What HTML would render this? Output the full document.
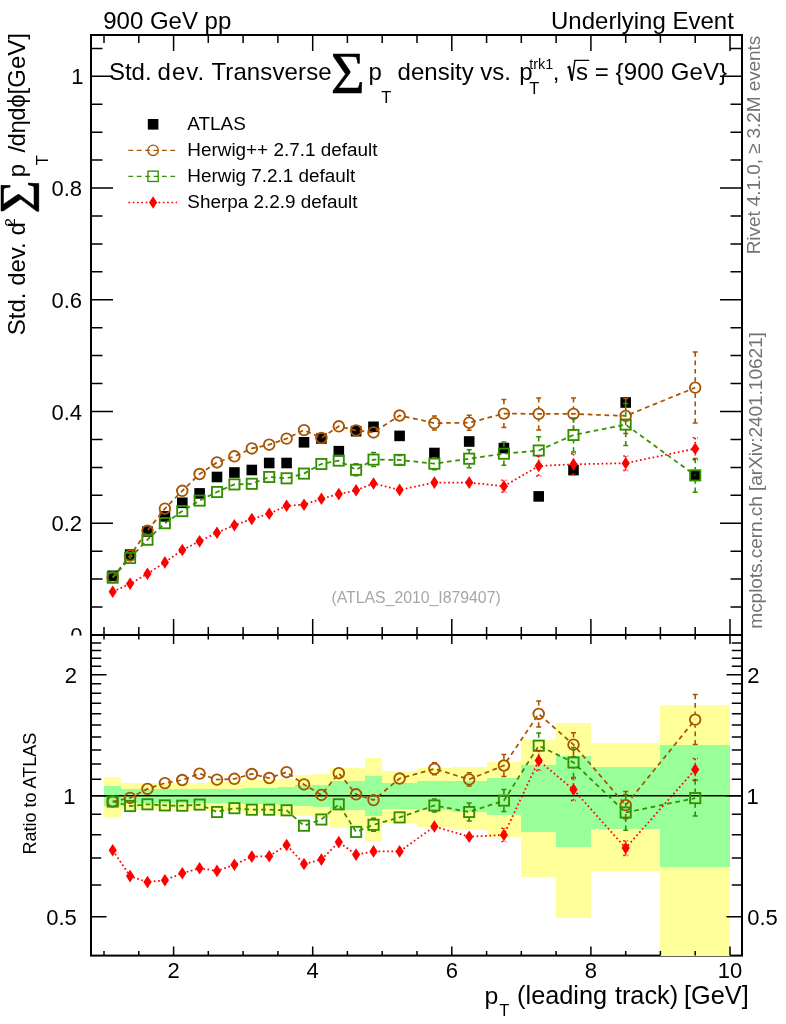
<!DOCTYPE html>
<html><head><meta charset="utf-8"><title>Underlying Event</title>
<style>html,body{margin:0;padding:0;background:#fff;overflow:hidden}svg{display:block}text{font-family:"Liberation Sans",sans-serif;fill:#000}</style></head><body>
<svg width="786" height="1024" viewBox="0 0 786 1024">
<rect width="786" height="1024" fill="#fff"/>
<g stroke="#000" stroke-width="2" fill="none" stroke-linecap="butt">
<rect x="91.0" y="35.0" width="651.0" height="920.6"/>
<line x1="91.0" x2="742.0" y1="635.0" y2="635.0" stroke-width="2.1"/>
</g>
<g shape-rendering="crispEdges">
<rect x="104.0" y="777.3" width="17.4" height="39.3" fill="#ffff99"/>
<rect x="121.4" y="783.0" width="17.4" height="26.6" fill="#ffff99"/>
<rect x="138.8" y="783.0" width="17.4" height="26.6" fill="#ffff99"/>
<rect x="156.2" y="783.0" width="17.4" height="26.6" fill="#ffff99"/>
<rect x="173.6" y="783.0" width="17.4" height="26.6" fill="#ffff99"/>
<rect x="190.9" y="783.0" width="17.4" height="26.6" fill="#ffff99"/>
<rect x="208.3" y="781.9" width="17.4" height="29.0" fill="#ffff99"/>
<rect x="225.7" y="781.9" width="17.4" height="29.0" fill="#ffff99"/>
<rect x="243.1" y="780.3" width="17.4" height="32.6" fill="#ffff99"/>
<rect x="260.5" y="779.8" width="17.4" height="33.6" fill="#ffff99"/>
<rect x="277.9" y="778.5" width="17.4" height="36.4" fill="#ffff99"/>
<rect x="295.3" y="775.4" width="17.4" height="40.6" fill="#ffff99"/>
<rect x="312.7" y="774.2" width="17.4" height="43.4" fill="#ffff99"/>
<rect x="330.1" y="767.9" width="17.4" height="59.9" fill="#ffff99"/>
<rect x="347.4" y="767.9" width="17.4" height="59.9" fill="#ffff99"/>
<rect x="364.8" y="758.4" width="17.4" height="83.3" fill="#ffff99"/>
<rect x="382.2" y="771.4" width="34.8" height="51.9" fill="#ffff99"/>
<rect x="417.0" y="767.8" width="34.8" height="59.4" fill="#ffff99"/>
<rect x="451.8" y="766.9" width="34.8" height="63.5" fill="#ffff99"/>
<rect x="486.6" y="762.2" width="34.8" height="74.4" fill="#ffff99"/>
<rect x="521.3" y="739.6" width="34.8" height="137.1" fill="#ffff99"/>
<rect x="556.1" y="723.4" width="34.8" height="195.0" fill="#ffff99"/>
<rect x="590.9" y="742.6" width="69.6" height="128.7" fill="#ffff99"/>
<rect x="660.4" y="705.2" width="69.6" height="250.4" fill="#ffff99"/>
<rect x="104.0" y="786.3" width="17.4" height="19.6" fill="#99ff99"/>
<rect x="121.4" y="789.3" width="17.4" height="13.3" fill="#99ff99"/>
<rect x="138.8" y="789.3" width="17.4" height="13.3" fill="#99ff99"/>
<rect x="156.2" y="789.3" width="17.4" height="13.3" fill="#99ff99"/>
<rect x="173.6" y="789.3" width="17.4" height="13.3" fill="#99ff99"/>
<rect x="190.9" y="789.3" width="17.4" height="13.3" fill="#99ff99"/>
<rect x="208.3" y="788.7" width="17.4" height="14.5" fill="#99ff99"/>
<rect x="225.7" y="788.7" width="17.4" height="14.5" fill="#99ff99"/>
<rect x="243.1" y="787.9" width="17.4" height="16.2" fill="#99ff99"/>
<rect x="260.5" y="787.6" width="17.4" height="16.8" fill="#99ff99"/>
<rect x="277.9" y="787.0" width="17.4" height="18.2" fill="#99ff99"/>
<rect x="295.3" y="785.3" width="17.4" height="21.1" fill="#99ff99"/>
<rect x="312.7" y="784.6" width="17.4" height="22.0" fill="#99ff99"/>
<rect x="330.1" y="781.3" width="17.4" height="28.6" fill="#99ff99"/>
<rect x="347.4" y="781.3" width="17.4" height="28.6" fill="#99ff99"/>
<rect x="364.8" y="776.1" width="17.4" height="40.0" fill="#99ff99"/>
<rect x="382.2" y="783.2" width="34.8" height="25.6" fill="#99ff99"/>
<rect x="417.0" y="781.2" width="34.8" height="29.1" fill="#99ff99"/>
<rect x="451.8" y="780.8" width="34.8" height="31.2" fill="#99ff99"/>
<rect x="486.6" y="778.2" width="34.8" height="36.4" fill="#99ff99"/>
<rect x="521.3" y="765.4" width="34.8" height="66.3" fill="#99ff99"/>
<rect x="556.1" y="755.9" width="34.8" height="90.7" fill="#99ff99"/>
<rect x="590.9" y="767.2" width="69.6" height="62.2" fill="#99ff99"/>
<rect x="660.4" y="744.7" width="69.6" height="122.5" fill="#99ff99"/>
</g>
<line x1="91.0" x2="742.0" y1="795.8" y2="795.8" stroke="#000" stroke-width="1.5"/>
<g stroke="#000" stroke-width="2" fill="none" stroke-linecap="butt">
<path stroke-width="1.5" d="M104.0 35.0v8M104.0 635.0v-8M104.0 635.0v4.5M104.0 955.6v-4.5M138.8 35.0v8M138.8 635.0v-8M138.8 635.0v4.5M138.8 955.6v-4.5M173.6 35.0v16M173.6 635.0v-16M173.6 635.0v9M173.6 955.6v-9M208.3 35.0v8M208.3 635.0v-8M208.3 635.0v4.5M208.3 955.6v-4.5M243.1 35.0v8M243.1 635.0v-8M243.1 635.0v4.5M243.1 955.6v-4.5M277.9 35.0v8M277.9 635.0v-8M277.9 635.0v4.5M277.9 955.6v-4.5M312.7 35.0v16M312.7 635.0v-16M312.7 635.0v9M312.7 955.6v-9M347.4 35.0v8M347.4 635.0v-8M347.4 635.0v4.5M347.4 955.6v-4.5M382.2 35.0v8M382.2 635.0v-8M382.2 635.0v4.5M382.2 955.6v-4.5M417.0 35.0v8M417.0 635.0v-8M417.0 635.0v4.5M417.0 955.6v-4.5M451.8 35.0v16M451.8 635.0v-16M451.8 635.0v9M451.8 955.6v-9M486.6 35.0v8M486.6 635.0v-8M486.6 635.0v4.5M486.6 955.6v-4.5M521.3 35.0v8M521.3 635.0v-8M521.3 635.0v4.5M521.3 955.6v-4.5M556.1 35.0v8M556.1 635.0v-8M556.1 635.0v4.5M556.1 955.6v-4.5M590.9 35.0v16M590.9 635.0v-16M590.9 635.0v9M590.9 955.6v-9M625.7 35.0v8M625.7 635.0v-8M625.7 635.0v4.5M625.7 955.6v-4.5M660.4 35.0v8M660.4 635.0v-8M660.4 635.0v4.5M660.4 955.6v-4.5M695.2 35.0v8M695.2 635.0v-8M695.2 635.0v4.5M695.2 955.6v-4.5M730.0 35.0v16M730.0 635.0v-16M730.0 635.0v9M730.0 955.6v-9M91.0 607.1h11.5M742.0 607.1h-11.5M91.0 579.1h11.5M742.0 579.1h-11.5M91.0 551.2h11.5M742.0 551.2h-11.5M91.0 523.3h22M742.0 523.3h-22M91.0 495.3h11.5M742.0 495.3h-11.5M91.0 467.4h11.5M742.0 467.4h-11.5M91.0 439.5h11.5M742.0 439.5h-11.5M91.0 411.5h22M742.0 411.5h-22M91.0 383.6h11.5M742.0 383.6h-11.5M91.0 355.6h11.5M742.0 355.6h-11.5M91.0 327.7h11.5M742.0 327.7h-11.5M91.0 299.8h22M742.0 299.8h-22M91.0 271.8h11.5M742.0 271.8h-11.5M91.0 243.9h11.5M742.0 243.9h-11.5M91.0 216.0h11.5M742.0 216.0h-11.5M91.0 188.0h22M742.0 188.0h-22M91.0 160.1h11.5M742.0 160.1h-11.5M91.0 132.2h11.5M742.0 132.2h-11.5M91.0 104.2h11.5M742.0 104.2h-11.5M91.0 76.3h22M742.0 76.3h-22M91.0 48.4h11.5M742.0 48.4h-11.5M91.0 916.8h15.5M742.0 916.8h-15.5M91.0 885.0h10.2M742.0 885.0h-10.2M91.0 858.1h10.2M742.0 858.1h-10.2M91.0 834.8h10.2M742.0 834.8h-10.2M91.0 814.2h10.2M742.0 814.2h-10.2M91.0 795.8h15.5M742.0 795.8h-15.5M91.0 779.2h10.2M742.0 779.2h-10.2M91.0 764.0h10.2M742.0 764.0h-10.2M91.0 750.0h10.2M742.0 750.0h-10.2M91.0 737.1h10.2M742.0 737.1h-10.2M91.0 725.0h10.2M742.0 725.0h-10.2M91.0 713.8h10.2M742.0 713.8h-10.2M91.0 703.2h10.2M742.0 703.2h-10.2M91.0 693.2h10.2M742.0 693.2h-10.2M91.0 683.8h10.2M742.0 683.8h-10.2M91.0 674.8h15.5M742.0 674.8h-15.5M91.0 666.3h10.2M742.0 666.3h-10.2M91.0 658.2h10.2M742.0 658.2h-10.2M91.0 650.4h10.2M742.0 650.4h-10.2M91.0 643.0h10.2M742.0 643.0h-10.2"/>
</g>
<rect x="107.4" y="570.5" width="10.6" height="10.6" fill="#000"/>
<rect x="124.8" y="549.3" width="10.6" height="10.6" fill="#000"/>
<rect x="142.2" y="526.2" width="10.6" height="10.6" fill="#000"/>
<rect x="159.6" y="511.1" width="10.6" height="10.6" fill="#000"/>
<rect x="177.0" y="497.5" width="10.6" height="10.6" fill="#000"/>
<rect x="194.3" y="488.1" width="10.6" height="10.6" fill="#000"/>
<rect x="211.7" y="471.7" width="10.6" height="10.6" fill="#000"/>
<rect x="229.1" y="467.2" width="10.6" height="10.6" fill="#000"/>
<rect x="246.5" y="464.7" width="10.6" height="10.6" fill="#000"/>
<rect x="263.9" y="457.7" width="10.6" height="10.6" fill="#000"/>
<rect x="281.3" y="457.7" width="10.6" height="10.6" fill="#000"/>
<rect x="298.7" y="437.0" width="10.6" height="10.6" fill="#000"/>
<rect x="316.1" y="433.2" width="10.6" height="10.6" fill="#000"/>
<rect x="333.5" y="445.9" width="10.6" height="10.6" fill="#000"/>
<rect x="350.8" y="425.9" width="10.6" height="10.6" fill="#000"/>
<rect x="368.2" y="421.5" width="10.6" height="10.6" fill="#000"/>
<rect x="394.3" y="430.6" width="10.6" height="10.6" fill="#000"/>
<rect x="429.1" y="447.7" width="10.6" height="10.6" fill="#000"/>
<rect x="463.9" y="436.2" width="10.6" height="10.6" fill="#000"/>
<rect x="498.6" y="442.8" width="10.6" height="10.6" fill="#000"/>
<rect x="533.4" y="491.1" width="10.6" height="10.6" fill="#000"/>
<rect x="568.2" y="464.8" width="10.6" height="10.6" fill="#000"/>
<rect x="620.4" y="397.2" width="10.6" height="10.6" fill="#000"/>
<rect x="689.9" y="469.9" width="10.6" height="10.6" fill="#000"/>
<path d="M112.7 577.3 L130.1 555.6 L147.5 530.6 L164.9 508.6 L182.3 490.8 L199.6 474.0 L217.0 462.4 L234.4 456.3 L251.8 448.4 L269.2 444.7 L286.6 438.6 L304.0 430.1 L321.4 438.0 L338.8 426.3 L356.1 430.4 L373.5 432.4 L399.6 415.5 L434.4 423.1 L469.2 422.7 L503.9 413.6 L538.7 413.9 L573.5 413.9 L625.7 415.9 L695.2 387.6" fill="none" stroke="#a85400" stroke-width="1.75" stroke-dasharray="4.7 3.7"/>
<path d="M434.4 416.1V417.3M434.4 430.1V428.9M469.2 415.2V416.9M469.2 430.2V428.5M503.9 399.6V407.8M503.9 427.6V419.4M538.7 397.9V408.1M538.7 429.9V419.7M573.5 397.9V408.1M573.5 429.9V419.7M625.7 398.4V410.1M625.7 433.4V421.7M695.2 352.1V381.8M695.2 423.1V393.4" fill="none" stroke="#a85400" stroke-width="1.6" stroke-dasharray="4.7 3.7"/>
<path d="M431.9 416.1h5M431.9 430.1h5M466.7 415.2h5M466.7 430.2h5M501.4 399.6h5M501.4 427.6h5M536.2 397.9h5M536.2 429.9h5M571.0 397.9h5M571.0 429.9h5M623.2 398.4h5M623.2 433.4h5M692.7 352.1h5M692.7 423.1h5" fill="none" stroke="#a85400" stroke-width="1.5"/>
<circle cx="112.7" cy="577.3" r="5.3" fill="none" stroke="#a85400" stroke-width="1.85"/>
<circle cx="130.1" cy="555.6" r="5.3" fill="none" stroke="#a85400" stroke-width="1.85"/>
<circle cx="147.5" cy="530.6" r="5.3" fill="none" stroke="#a85400" stroke-width="1.85"/>
<circle cx="164.9" cy="508.6" r="5.3" fill="none" stroke="#a85400" stroke-width="1.85"/>
<circle cx="182.3" cy="490.8" r="5.3" fill="none" stroke="#a85400" stroke-width="1.85"/>
<circle cx="199.6" cy="474.0" r="5.3" fill="none" stroke="#a85400" stroke-width="1.85"/>
<circle cx="217.0" cy="462.4" r="5.3" fill="none" stroke="#a85400" stroke-width="1.85"/>
<circle cx="234.4" cy="456.3" r="5.3" fill="none" stroke="#a85400" stroke-width="1.85"/>
<circle cx="251.8" cy="448.4" r="5.3" fill="none" stroke="#a85400" stroke-width="1.85"/>
<circle cx="269.2" cy="444.7" r="5.3" fill="none" stroke="#a85400" stroke-width="1.85"/>
<circle cx="286.6" cy="438.6" r="5.3" fill="none" stroke="#a85400" stroke-width="1.85"/>
<circle cx="304.0" cy="430.1" r="5.3" fill="none" stroke="#a85400" stroke-width="1.85"/>
<circle cx="321.4" cy="438.0" r="5.3" fill="none" stroke="#a85400" stroke-width="1.85"/>
<circle cx="338.8" cy="426.3" r="5.3" fill="none" stroke="#a85400" stroke-width="1.85"/>
<circle cx="356.1" cy="430.4" r="5.3" fill="none" stroke="#a85400" stroke-width="1.85"/>
<circle cx="373.5" cy="432.4" r="5.3" fill="none" stroke="#a85400" stroke-width="1.85"/>
<circle cx="399.6" cy="415.5" r="5.3" fill="none" stroke="#a85400" stroke-width="1.85"/>
<circle cx="434.4" cy="423.1" r="5.3" fill="none" stroke="#a85400" stroke-width="1.85"/>
<circle cx="469.2" cy="422.7" r="5.3" fill="none" stroke="#a85400" stroke-width="1.85"/>
<circle cx="503.9" cy="413.6" r="5.3" fill="none" stroke="#a85400" stroke-width="1.85"/>
<circle cx="538.7" cy="413.9" r="5.3" fill="none" stroke="#a85400" stroke-width="1.85"/>
<circle cx="573.5" cy="413.9" r="5.3" fill="none" stroke="#a85400" stroke-width="1.85"/>
<circle cx="625.7" cy="415.9" r="5.3" fill="none" stroke="#a85400" stroke-width="1.85"/>
<circle cx="695.2" cy="387.6" r="5.3" fill="none" stroke="#a85400" stroke-width="1.85"/>
<path d="M112.7 577.7 L130.1 558.0 L147.5 539.7 L164.9 523.2 L182.3 511.1 L199.6 500.6 L217.0 492.0 L234.4 484.4 L251.8 483.8 L269.2 477.0 L286.6 478.3 L304.0 473.6 L321.4 464.0 L338.8 460.6 L356.1 469.8 L373.5 459.6 L399.6 459.9 L434.4 463.7 L469.2 458.7 L503.9 453.7 L538.7 450.5 L573.5 435.0 L625.7 424.6 L695.2 475.4" fill="none" stroke="#338f00" stroke-width="1.75" stroke-dasharray="4.7 3.7"/>
<path d="M356.1 463.8V464.0M356.1 475.8V475.6M373.5 452.6V453.8M373.5 466.6V465.4M434.4 457.7V457.9M434.4 469.7V469.5M469.2 449.7V452.9M469.2 467.7V464.5M503.9 442.1V447.9M503.9 465.3V459.5M538.7 436.8V444.7M538.7 464.2V456.3M573.5 418.0V429.2M573.5 452.0V440.8M625.7 403.6V418.8M625.7 445.6V430.4M695.2 458.6V469.6M695.2 492.2V481.2" fill="none" stroke="#338f00" stroke-width="1.6" stroke-dasharray="4.7 3.7"/>
<path d="M353.6 463.8h5M353.6 475.8h5M371.0 452.6h5M371.0 466.6h5M397.1 455.4h5M397.1 464.4h5M431.9 457.7h5M431.9 469.7h5M466.7 449.7h5M466.7 467.7h5M501.4 442.1h5M501.4 465.3h5M536.2 436.8h5M536.2 464.2h5M571.0 418.0h5M571.0 452.0h5M623.2 403.6h5M623.2 445.6h5M692.7 458.6h5M692.7 492.2h5" fill="none" stroke="#338f00" stroke-width="1.5"/>
<rect x="107.59" y="572.60" width="10.2" height="10.2" fill="none" stroke="#338f00" stroke-width="1.85"/>
<rect x="124.98" y="552.90" width="10.2" height="10.2" fill="none" stroke="#338f00" stroke-width="1.85"/>
<rect x="142.37" y="534.60" width="10.2" height="10.2" fill="none" stroke="#338f00" stroke-width="1.85"/>
<rect x="159.76" y="518.10" width="10.2" height="10.2" fill="none" stroke="#338f00" stroke-width="1.85"/>
<rect x="177.15" y="506.00" width="10.2" height="10.2" fill="none" stroke="#338f00" stroke-width="1.85"/>
<rect x="194.54" y="495.50" width="10.2" height="10.2" fill="none" stroke="#338f00" stroke-width="1.85"/>
<rect x="211.93" y="486.90" width="10.2" height="10.2" fill="none" stroke="#338f00" stroke-width="1.85"/>
<rect x="229.32" y="479.30" width="10.2" height="10.2" fill="none" stroke="#338f00" stroke-width="1.85"/>
<rect x="246.71" y="478.70" width="10.2" height="10.2" fill="none" stroke="#338f00" stroke-width="1.85"/>
<rect x="264.10" y="471.90" width="10.2" height="10.2" fill="none" stroke="#338f00" stroke-width="1.85"/>
<rect x="281.48" y="473.20" width="10.2" height="10.2" fill="none" stroke="#338f00" stroke-width="1.85"/>
<rect x="298.87" y="468.50" width="10.2" height="10.2" fill="none" stroke="#338f00" stroke-width="1.85"/>
<rect x="316.26" y="458.90" width="10.2" height="10.2" fill="none" stroke="#338f00" stroke-width="1.85"/>
<rect x="333.65" y="455.50" width="10.2" height="10.2" fill="none" stroke="#338f00" stroke-width="1.85"/>
<rect x="351.04" y="464.70" width="10.2" height="10.2" fill="none" stroke="#338f00" stroke-width="1.85"/>
<rect x="368.43" y="454.50" width="10.2" height="10.2" fill="none" stroke="#338f00" stroke-width="1.85"/>
<rect x="394.51" y="454.80" width="10.2" height="10.2" fill="none" stroke="#338f00" stroke-width="1.85"/>
<rect x="429.29" y="458.60" width="10.2" height="10.2" fill="none" stroke="#338f00" stroke-width="1.85"/>
<rect x="464.07" y="453.60" width="10.2" height="10.2" fill="none" stroke="#338f00" stroke-width="1.85"/>
<rect x="498.85" y="448.60" width="10.2" height="10.2" fill="none" stroke="#338f00" stroke-width="1.85"/>
<rect x="533.62" y="445.40" width="10.2" height="10.2" fill="none" stroke="#338f00" stroke-width="1.85"/>
<rect x="568.40" y="429.90" width="10.2" height="10.2" fill="none" stroke="#338f00" stroke-width="1.85"/>
<rect x="620.57" y="419.50" width="10.2" height="10.2" fill="none" stroke="#338f00" stroke-width="1.85"/>
<rect x="690.13" y="470.30" width="10.2" height="10.2" fill="none" stroke="#338f00" stroke-width="1.85"/>
<path d="M112.7 591.7 L130.1 583.8 L147.5 573.7 L164.9 562.4 L182.3 550.0 L199.6 541.3 L217.0 532.7 L234.4 525.3 L251.8 519.0 L269.2 513.7 L286.6 505.8 L304.0 504.7 L321.4 498.8 L338.8 494.1 L356.1 490.3 L373.5 483.5 L399.6 489.9 L434.4 482.6 L469.2 482.6 L503.9 486.2 L538.7 466.0 L573.5 464.3 L625.7 463.2 L695.2 448.7" fill="none" stroke="#ff0000" stroke-width="1.75" stroke-dasharray="1.7 2.6"/>
<path d="M503.9 480.2V480.4M503.9 492.2V492.0M538.7 456.0V460.2M538.7 476.0V471.8M573.5 453.8V458.5M573.5 474.8V470.1M625.7 455.9V457.4M625.7 470.5V469.0M695.2 437.7V442.9M695.2 459.7V454.5" fill="none" stroke="#ff0000" stroke-width="1.6" stroke-dasharray="1.7 2.6"/>
<path d="M501.4 480.2h5M501.4 492.2h5M536.2 456.0h5M536.2 476.0h5M571.0 453.8h5M571.0 474.8h5M623.2 455.9h5M623.2 470.5h5M692.7 437.7h5M692.7 459.7h5" fill="none" stroke="#ff0000" stroke-width="1.5" stroke-dasharray="1.7 2.6"/>
<path d="M112.7 585.4l4.1 6.3l-4.1 6.3l-4.1 -6.3z" fill="#ff0000"/>
<path d="M130.1 577.5l4.1 6.3l-4.1 6.3l-4.1 -6.3z" fill="#ff0000"/>
<path d="M147.5 567.4l4.1 6.3l-4.1 6.3l-4.1 -6.3z" fill="#ff0000"/>
<path d="M164.9 556.1l4.1 6.3l-4.1 6.3l-4.1 -6.3z" fill="#ff0000"/>
<path d="M182.3 543.7l4.1 6.3l-4.1 6.3l-4.1 -6.3z" fill="#ff0000"/>
<path d="M199.6 535.0l4.1 6.3l-4.1 6.3l-4.1 -6.3z" fill="#ff0000"/>
<path d="M217.0 526.4l4.1 6.3l-4.1 6.3l-4.1 -6.3z" fill="#ff0000"/>
<path d="M234.4 519.0l4.1 6.3l-4.1 6.3l-4.1 -6.3z" fill="#ff0000"/>
<path d="M251.8 512.7l4.1 6.3l-4.1 6.3l-4.1 -6.3z" fill="#ff0000"/>
<path d="M269.2 507.4l4.1 6.3l-4.1 6.3l-4.1 -6.3z" fill="#ff0000"/>
<path d="M286.6 499.5l4.1 6.3l-4.1 6.3l-4.1 -6.3z" fill="#ff0000"/>
<path d="M304.0 498.4l4.1 6.3l-4.1 6.3l-4.1 -6.3z" fill="#ff0000"/>
<path d="M321.4 492.5l4.1 6.3l-4.1 6.3l-4.1 -6.3z" fill="#ff0000"/>
<path d="M338.8 487.8l4.1 6.3l-4.1 6.3l-4.1 -6.3z" fill="#ff0000"/>
<path d="M356.1 484.0l4.1 6.3l-4.1 6.3l-4.1 -6.3z" fill="#ff0000"/>
<path d="M373.5 477.2l4.1 6.3l-4.1 6.3l-4.1 -6.3z" fill="#ff0000"/>
<path d="M399.6 483.6l4.1 6.3l-4.1 6.3l-4.1 -6.3z" fill="#ff0000"/>
<path d="M434.4 476.3l4.1 6.3l-4.1 6.3l-4.1 -6.3z" fill="#ff0000"/>
<path d="M469.2 476.3l4.1 6.3l-4.1 6.3l-4.1 -6.3z" fill="#ff0000"/>
<path d="M503.9 479.9l4.1 6.3l-4.1 6.3l-4.1 -6.3z" fill="#ff0000"/>
<path d="M538.7 459.7l4.1 6.3l-4.1 6.3l-4.1 -6.3z" fill="#ff0000"/>
<path d="M573.5 458.0l4.1 6.3l-4.1 6.3l-4.1 -6.3z" fill="#ff0000"/>
<path d="M625.7 456.9l4.1 6.3l-4.1 6.3l-4.1 -6.3z" fill="#ff0000"/>
<path d="M695.2 442.4l4.1 6.3l-4.1 6.3l-4.1 -6.3z" fill="#ff0000"/>
<path d="M112.7 801.5 L130.1 797.9 L147.5 788.9 L164.9 783.1 L182.3 780.0 L199.6 773.6 L217.0 779.6 L234.4 778.8 L251.8 774.0 L269.2 778.0 L286.6 772.2 L304.0 784.4 L321.4 794.9 L338.8 773.2 L356.1 794.3 L373.5 800.1 L399.6 778.5 L434.4 768.8 L469.2 779.4 L503.9 765.5 L538.7 713.9 L573.5 744.7 L625.7 805.1 L695.2 719.6" fill="none" stroke="#a85400" stroke-width="1.75" stroke-dasharray="4.7 3.7"/>
<path d="M434.4 762.8V763.0M434.4 774.8V774.6M469.2 772.7V773.6M469.2 786.1V785.2M503.9 754.5V759.7M503.9 776.5V771.3M538.7 700.9V708.1M538.7 726.9V719.7M573.5 732.7V738.9M573.5 756.7V750.5M625.7 791.5V799.3M625.7 818.7V810.9M695.2 694.6V713.8M695.2 744.6V725.4" fill="none" stroke="#a85400" stroke-width="1.6" stroke-dasharray="4.7 3.7"/>
<path d="M431.9 762.8h5M431.9 774.8h5M466.7 772.7h5M466.7 786.1h5M501.4 754.5h5M501.4 776.5h5M536.2 700.9h5M536.2 726.9h5M571.0 732.7h5M571.0 756.7h5M623.2 791.5h5M623.2 818.7h5M692.7 694.6h5M692.7 744.6h5" fill="none" stroke="#a85400" stroke-width="1.5"/>
<circle cx="112.7" cy="801.5" r="5.3" fill="none" stroke="#a85400" stroke-width="1.85"/>
<circle cx="130.1" cy="797.9" r="5.3" fill="none" stroke="#a85400" stroke-width="1.85"/>
<circle cx="147.5" cy="788.9" r="5.3" fill="none" stroke="#a85400" stroke-width="1.85"/>
<circle cx="164.9" cy="783.1" r="5.3" fill="none" stroke="#a85400" stroke-width="1.85"/>
<circle cx="182.3" cy="780.0" r="5.3" fill="none" stroke="#a85400" stroke-width="1.85"/>
<circle cx="199.6" cy="773.6" r="5.3" fill="none" stroke="#a85400" stroke-width="1.85"/>
<circle cx="217.0" cy="779.6" r="5.3" fill="none" stroke="#a85400" stroke-width="1.85"/>
<circle cx="234.4" cy="778.8" r="5.3" fill="none" stroke="#a85400" stroke-width="1.85"/>
<circle cx="251.8" cy="774.0" r="5.3" fill="none" stroke="#a85400" stroke-width="1.85"/>
<circle cx="269.2" cy="778.0" r="5.3" fill="none" stroke="#a85400" stroke-width="1.85"/>
<circle cx="286.6" cy="772.2" r="5.3" fill="none" stroke="#a85400" stroke-width="1.85"/>
<circle cx="304.0" cy="784.4" r="5.3" fill="none" stroke="#a85400" stroke-width="1.85"/>
<circle cx="321.4" cy="794.9" r="5.3" fill="none" stroke="#a85400" stroke-width="1.85"/>
<circle cx="338.8" cy="773.2" r="5.3" fill="none" stroke="#a85400" stroke-width="1.85"/>
<circle cx="356.1" cy="794.3" r="5.3" fill="none" stroke="#a85400" stroke-width="1.85"/>
<circle cx="373.5" cy="800.1" r="5.3" fill="none" stroke="#a85400" stroke-width="1.85"/>
<circle cx="399.6" cy="778.5" r="5.3" fill="none" stroke="#a85400" stroke-width="1.85"/>
<circle cx="434.4" cy="768.8" r="5.3" fill="none" stroke="#a85400" stroke-width="1.85"/>
<circle cx="469.2" cy="779.4" r="5.3" fill="none" stroke="#a85400" stroke-width="1.85"/>
<circle cx="503.9" cy="765.5" r="5.3" fill="none" stroke="#a85400" stroke-width="1.85"/>
<circle cx="538.7" cy="713.9" r="5.3" fill="none" stroke="#a85400" stroke-width="1.85"/>
<circle cx="573.5" cy="744.7" r="5.3" fill="none" stroke="#a85400" stroke-width="1.85"/>
<circle cx="625.7" cy="805.1" r="5.3" fill="none" stroke="#a85400" stroke-width="1.85"/>
<circle cx="695.2" cy="719.6" r="5.3" fill="none" stroke="#a85400" stroke-width="1.85"/>
<path d="M112.7 801.5 L130.1 806.0 L147.5 804.3 L164.9 805.4 L182.3 805.7 L199.6 804.6 L217.0 812.0 L234.4 808.2 L251.8 809.7 L269.2 809.7 L286.6 810.3 L304.0 825.7 L321.4 819.5 L338.8 804.3 L356.1 831.9 L373.5 824.8 L399.6 817.4 L434.4 805.5 L469.2 812.0 L503.9 800.6 L538.7 745.7 L573.5 762.5 L625.7 812.5 L695.2 798.1" fill="none" stroke="#338f00" stroke-width="1.75" stroke-dasharray="4.7 3.7"/>
<path d="M373.5 818.3V819.0M373.5 831.3V830.6M434.4 799.0V799.7M434.4 812.0V811.3M469.2 803.0V806.2M469.2 821.0V817.8M503.9 789.6V794.8M503.9 811.6V806.4M538.7 733.0V739.9M538.7 758.4V751.5M573.5 747.5V756.7M573.5 777.5V768.3M625.7 794.7V806.7M625.7 830.3V818.3M695.2 780.1V792.3M695.2 816.1V803.9" fill="none" stroke="#338f00" stroke-width="1.6" stroke-dasharray="4.7 3.7"/>
<path d="M371.0 818.3h5M371.0 831.3h5M431.9 799.0h5M431.9 812.0h5M466.7 803.0h5M466.7 821.0h5M501.4 789.6h5M501.4 811.6h5M536.2 733.0h5M536.2 758.4h5M571.0 747.5h5M571.0 777.5h5M623.2 794.7h5M623.2 830.3h5M692.7 780.1h5M692.7 816.1h5" fill="none" stroke="#338f00" stroke-width="1.5"/>
<rect x="107.59" y="796.40" width="10.2" height="10.2" fill="none" stroke="#338f00" stroke-width="1.85"/>
<rect x="124.98" y="800.90" width="10.2" height="10.2" fill="none" stroke="#338f00" stroke-width="1.85"/>
<rect x="142.37" y="799.20" width="10.2" height="10.2" fill="none" stroke="#338f00" stroke-width="1.85"/>
<rect x="159.76" y="800.30" width="10.2" height="10.2" fill="none" stroke="#338f00" stroke-width="1.85"/>
<rect x="177.15" y="800.60" width="10.2" height="10.2" fill="none" stroke="#338f00" stroke-width="1.85"/>
<rect x="194.54" y="799.50" width="10.2" height="10.2" fill="none" stroke="#338f00" stroke-width="1.85"/>
<rect x="211.93" y="806.90" width="10.2" height="10.2" fill="none" stroke="#338f00" stroke-width="1.85"/>
<rect x="229.32" y="803.10" width="10.2" height="10.2" fill="none" stroke="#338f00" stroke-width="1.85"/>
<rect x="246.71" y="804.60" width="10.2" height="10.2" fill="none" stroke="#338f00" stroke-width="1.85"/>
<rect x="264.10" y="804.60" width="10.2" height="10.2" fill="none" stroke="#338f00" stroke-width="1.85"/>
<rect x="281.48" y="805.20" width="10.2" height="10.2" fill="none" stroke="#338f00" stroke-width="1.85"/>
<rect x="298.87" y="820.60" width="10.2" height="10.2" fill="none" stroke="#338f00" stroke-width="1.85"/>
<rect x="316.26" y="814.40" width="10.2" height="10.2" fill="none" stroke="#338f00" stroke-width="1.85"/>
<rect x="333.65" y="799.20" width="10.2" height="10.2" fill="none" stroke="#338f00" stroke-width="1.85"/>
<rect x="351.04" y="826.80" width="10.2" height="10.2" fill="none" stroke="#338f00" stroke-width="1.85"/>
<rect x="368.43" y="819.70" width="10.2" height="10.2" fill="none" stroke="#338f00" stroke-width="1.85"/>
<rect x="394.51" y="812.30" width="10.2" height="10.2" fill="none" stroke="#338f00" stroke-width="1.85"/>
<rect x="429.29" y="800.40" width="10.2" height="10.2" fill="none" stroke="#338f00" stroke-width="1.85"/>
<rect x="464.07" y="806.90" width="10.2" height="10.2" fill="none" stroke="#338f00" stroke-width="1.85"/>
<rect x="498.85" y="795.50" width="10.2" height="10.2" fill="none" stroke="#338f00" stroke-width="1.85"/>
<rect x="533.62" y="740.60" width="10.2" height="10.2" fill="none" stroke="#338f00" stroke-width="1.85"/>
<rect x="568.40" y="757.40" width="10.2" height="10.2" fill="none" stroke="#338f00" stroke-width="1.85"/>
<rect x="620.57" y="807.40" width="10.2" height="10.2" fill="none" stroke="#338f00" stroke-width="1.85"/>
<rect x="690.13" y="793.00" width="10.2" height="10.2" fill="none" stroke="#338f00" stroke-width="1.85"/>
<path d="M112.7 850.3 L130.1 876.1 L147.5 882.1 L164.9 880.2 L182.3 873.2 L199.6 868.3 L217.0 870.9 L234.4 864.8 L251.8 856.6 L269.2 856.3 L286.6 845.0 L304.0 864.0 L321.4 859.6 L338.8 842.1 L356.1 854.6 L373.5 851.4 L399.6 851.4 L434.4 826.5 L469.2 836.7 L503.9 834.9 L538.7 760.6 L573.5 789.6 L625.7 848.1 L695.2 769.5" fill="none" stroke="#ff0000" stroke-width="1.75" stroke-dasharray="1.7 2.6"/>
<path d="M503.9 828.3V829.1M503.9 841.5V840.7M538.7 750.6V754.8M538.7 770.6V766.4M573.5 778.6V783.8M573.5 800.6V795.4M625.7 840.7V842.3M625.7 855.5V853.9M695.2 758.5V763.7M695.2 780.5V775.3" fill="none" stroke="#ff0000" stroke-width="1.6" stroke-dasharray="1.7 2.6"/>
<path d="M501.4 828.3h5M501.4 841.5h5M536.2 750.6h5M536.2 770.6h5M571.0 778.6h5M571.0 800.6h5M623.2 840.7h5M623.2 855.5h5M692.7 758.5h5M692.7 780.5h5" fill="none" stroke="#ff0000" stroke-width="1.5" stroke-dasharray="1.7 2.6"/>
<path d="M112.7 844.0l4.1 6.3l-4.1 6.3l-4.1 -6.3z" fill="#ff0000"/>
<path d="M130.1 869.8l4.1 6.3l-4.1 6.3l-4.1 -6.3z" fill="#ff0000"/>
<path d="M147.5 875.8l4.1 6.3l-4.1 6.3l-4.1 -6.3z" fill="#ff0000"/>
<path d="M164.9 873.9l4.1 6.3l-4.1 6.3l-4.1 -6.3z" fill="#ff0000"/>
<path d="M182.3 866.9l4.1 6.3l-4.1 6.3l-4.1 -6.3z" fill="#ff0000"/>
<path d="M199.6 862.0l4.1 6.3l-4.1 6.3l-4.1 -6.3z" fill="#ff0000"/>
<path d="M217.0 864.6l4.1 6.3l-4.1 6.3l-4.1 -6.3z" fill="#ff0000"/>
<path d="M234.4 858.5l4.1 6.3l-4.1 6.3l-4.1 -6.3z" fill="#ff0000"/>
<path d="M251.8 850.3l4.1 6.3l-4.1 6.3l-4.1 -6.3z" fill="#ff0000"/>
<path d="M269.2 850.0l4.1 6.3l-4.1 6.3l-4.1 -6.3z" fill="#ff0000"/>
<path d="M286.6 838.7l4.1 6.3l-4.1 6.3l-4.1 -6.3z" fill="#ff0000"/>
<path d="M304.0 857.7l4.1 6.3l-4.1 6.3l-4.1 -6.3z" fill="#ff0000"/>
<path d="M321.4 853.3l4.1 6.3l-4.1 6.3l-4.1 -6.3z" fill="#ff0000"/>
<path d="M338.8 835.8l4.1 6.3l-4.1 6.3l-4.1 -6.3z" fill="#ff0000"/>
<path d="M356.1 848.3l4.1 6.3l-4.1 6.3l-4.1 -6.3z" fill="#ff0000"/>
<path d="M373.5 845.1l4.1 6.3l-4.1 6.3l-4.1 -6.3z" fill="#ff0000"/>
<path d="M399.6 845.1l4.1 6.3l-4.1 6.3l-4.1 -6.3z" fill="#ff0000"/>
<path d="M434.4 820.2l4.1 6.3l-4.1 6.3l-4.1 -6.3z" fill="#ff0000"/>
<path d="M469.2 830.4l4.1 6.3l-4.1 6.3l-4.1 -6.3z" fill="#ff0000"/>
<path d="M503.9 828.6l4.1 6.3l-4.1 6.3l-4.1 -6.3z" fill="#ff0000"/>
<path d="M538.7 754.3l4.1 6.3l-4.1 6.3l-4.1 -6.3z" fill="#ff0000"/>
<path d="M573.5 783.3l4.1 6.3l-4.1 6.3l-4.1 -6.3z" fill="#ff0000"/>
<path d="M625.7 841.8l4.1 6.3l-4.1 6.3l-4.1 -6.3z" fill="#ff0000"/>
<path d="M695.2 763.2l4.1 6.3l-4.1 6.3l-4.1 -6.3z" fill="#ff0000"/>
<rect x="147.8" y="119.0" width="10.6" height="10.6" fill="#000"/>
<path d="M128.4 150.3H177" stroke="#a85400" stroke-width="1.3" stroke-dasharray="4.7 3.7" fill="none"/>
<circle cx="153.1" cy="150.3" r="5.2" fill="none" stroke="#a85400" stroke-width="1.35"/>
<path d="M128.4 176.3H177" stroke="#338f00" stroke-width="1.3" stroke-dasharray="4.7 3.7" fill="none"/>
<rect x="147.95" y="171.15" width="10.3" height="10.3" fill="none" stroke="#338f00" stroke-width="1.35"/>
<path d="M128.4 202.5H177" stroke="#ff0000" stroke-width="1.3" stroke-dasharray="1.7 2.6" fill="none"/>
<path d="M153.1 196.2l4.1 6.3l-4.1 6.3l-4.1 -6.3z" fill="#ff0000"/>
<text x="187.3" y="129.9" font-size="18.9">ATLAS</text>
<text x="187.3" y="155.9" font-size="18.9">Herwig++ 2.7.1 default</text>
<text x="187.3" y="181.9" font-size="18.9">Herwig 7.2.1 default</text>
<text x="187.3" y="208.1" font-size="18.9">Sherpa 2.2.9 default</text>
<text x="103.2" y="28.8" font-size="24">900 GeV pp</text>
<text x="733.8" y="28.8" font-size="24" text-anchor="end">Underlying Event</text>
<text x="108.9" y="79.6" font-size="24">Std.</text>
<text x="157.6" y="79.6" font-size="24" letter-spacing="1">dev.</text>
<text x="211.4" y="79.6" font-size="24" letter-spacing="0.12">Transverse</text>
<text x="330.8" y="93.3" font-size="58.5" style="font-family:'Liberation Serif',serif" stroke="#000" stroke-width="0.5">Σ</text>
<text x="368.6" y="79.6" font-size="24">p</text>
<text x="381.2" y="102.7" font-size="16.5">T</text>
<text x="397.6" y="79.6" font-size="24">density vs.</text>
<text x="519.2" y="79.6" font-size="24">p</text>
<text x="529.3" y="68.7" font-size="14.4">trk1</text>
<text x="529.3" y="93.5" font-size="16.5">T</text>
<text x="552.8" y="79.6" font-size="24">,</text>
<path d="M567.4 67.6l1.9 -1.1l2.7 14.3l2.9 -20.4h14.3" fill="none" stroke="#000" stroke-width="1.4" stroke-linejoin="miter"/>
<path d="M569.2 66.6l2.7 13.6" fill="none" stroke="#000" stroke-width="2.2"/>
<text x="576" y="79.6" font-size="24">s</text>
<text x="594.7" y="79.6" font-size="24" letter-spacing="0.1">= {900 GeV}</text>
<text x="82" y="531.3" font-size="22" text-anchor="end">0.2</text>
<text x="82" y="419.5" font-size="22" text-anchor="end">0.4</text>
<text x="82" y="307.8" font-size="22" text-anchor="end">0.6</text>
<text x="82" y="196.0" font-size="22" text-anchor="end">0.8</text>
<text x="83.5" y="84.3" font-size="22" text-anchor="end">1</text>
<clipPath id="c0"><rect x="0" y="0" width="90" height="635.5"/></clipPath>
<text x="82.6" y="643.2" font-size="22" text-anchor="end" clip-path="url(#c0)">0</text>
<text x="76.8" y="925.0" font-size="22" text-anchor="end">0.5</text>
<text x="747.2" y="925.0" font-size="22">0.5</text>
<text x="75.4" y="804.0" font-size="22" text-anchor="end">1</text>
<text x="746.6" y="804.0" font-size="22">1</text>
<text x="77" y="683.0" font-size="22" text-anchor="end">2</text>
<text x="747.2" y="683.0" font-size="22">2</text>
<text x="173.6" y="978.3" font-size="22" text-anchor="middle">2</text>
<text x="312.7" y="978.3" font-size="22" text-anchor="middle">4</text>
<text x="451.8" y="978.3" font-size="22" text-anchor="middle">6</text>
<text x="590.9" y="978.3" font-size="22" text-anchor="middle">8</text>
<text x="730.0" y="978.3" font-size="22" text-anchor="middle">10</text>
<text x="484.6" y="1003.6" font-size="24.8">p</text>
<text x="499.2" y="1016.4" font-size="16.5">T</text>
<text x="517.1" y="1003.6" font-size="25.3">(leading</text>
<text x="614.9" y="1003.6" font-size="25.3">track)</text>
<text x="684" y="1003.6" font-size="25.3">[GeV]</text>
<g transform="translate(25.4,335.2) rotate(-90)">
<text x="0" y="0" font-size="24">Std. dev. d</text>
<text x="108.4" y="-10.4" font-size="15.5">2</text>
<text x="121.6" y="13.6" font-size="57.5" style="font-family:'Liberation Serif',serif" stroke="#000" stroke-width="0.5">Σ</text>
<text x="158" y="0" font-size="24">p</text>
<text x="170" y="22.6" font-size="16.5">T</text>
<text x="182.6" y="0" font-size="24" textLength="58.2" lengthAdjust="spacing">/dηdϕ</text>
<text x="240.8" y="0" font-size="24">[GeV]</text>
</g>
<text transform="translate(36.2,793.6) rotate(-90)" font-size="18" text-anchor="middle">Ratio to ATLAS</text>
<text x="416.1" y="603.3" font-size="15.8" text-anchor="middle" style="fill:#a6a6a6">(ATLAS_2010_I879407)</text>
<text transform="translate(760,254.3) rotate(-90)" font-size="19" textLength="218.6" lengthAdjust="spacing" style="fill:#737373">Rivet 4.1.0, ≥ 3.2M events</text>
<text transform="translate(762.2,628.7) rotate(-90)" font-size="19.2" textLength="296.6" lengthAdjust="spacing" style="fill:#737373">mcplots.cern.ch [arXiv:2401.10621]</text>
</svg></body></html>
